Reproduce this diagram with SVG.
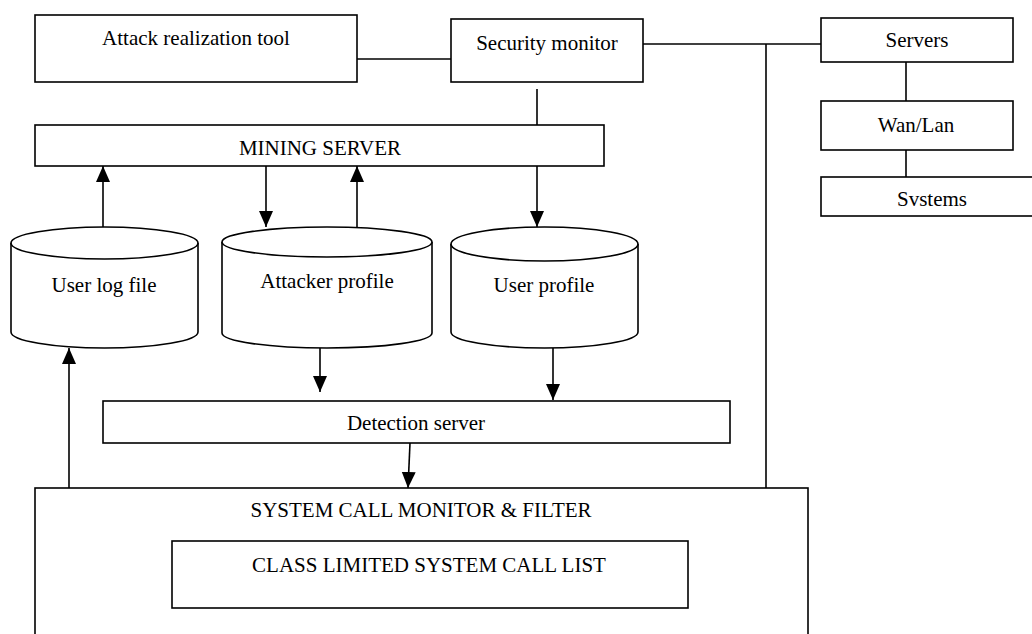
<svg xmlns="http://www.w3.org/2000/svg" width="1032" height="634" viewBox="0 0 1032 634">
<style>
.box{fill:#fff;stroke:#000;stroke-width:1.6}
.cyl{fill:#fff;stroke:#000;stroke-width:1.6}
.ln{fill:none;stroke:#000;stroke-width:1.6}
.t{font-family:"Liberation Serif","Times New Roman",serif;font-size:21px;fill:#000;text-anchor:middle}
</style>
<defs>
<marker id="ah" markerUnits="userSpaceOnUse" markerWidth="16" markerHeight="16" viewBox="0 0 16 14" refX="16" refY="7" orient="auto">
<path d="M0,0 L16,7 L0,14 Z" fill="#000"/>
</marker>
</defs>
<rect width="1032" height="634" fill="#fff"/>
<g id="connectors">
<line class="ln" x1="357" y1="59" x2="451" y2="59"/>
<line class="ln" x1="643" y1="44" x2="821" y2="44"/>
<line class="ln" x1="766" y1="44" x2="766" y2="488"/>
<line class="ln" x1="906" y1="62" x2="906" y2="101"/>
<line class="ln" x1="906" y1="138" x2="906" y2="177"/>
<line class="ln" x1="537" y1="89" x2="537" y2="125"/>
<line class="ln" x1="103" y1="227" x2="103" y2="166" marker-end="url(#ah)"/>
<line class="ln" x1="266" y1="166" x2="266" y2="227" marker-end="url(#ah)"/>
<line class="ln" x1="357" y1="227" x2="357" y2="166" marker-end="url(#ah)"/>
<line class="ln" x1="537" y1="166" x2="537" y2="227" marker-end="url(#ah)"/>
<line class="ln" x1="320" y1="348" x2="320" y2="392" marker-end="url(#ah)"/>
<line class="ln" x1="553" y1="348" x2="553" y2="400" marker-end="url(#ah)"/>
<line class="ln" x1="410" y1="443" x2="408" y2="488" marker-end="url(#ah)"/>
<line class="ln" x1="69" y1="488" x2="69" y2="348" marker-end="url(#ah)"/>
</g>
<g id="attack-tool">
<rect class="box" x="35" y="15" width="322" height="67"/>
<text class="t" x="196" y="45">Attack realization tool</text>
</g>
<g id="security-monitor">
<rect class="box" x="451" y="19" width="192" height="63"/>
<text class="t" x="547" y="50">Security monitor</text>
</g>
<g id="servers">
<rect class="box" x="821" y="18" width="192" height="44"/>
<text class="t" x="917" y="47">Servers</text>
</g>
<g id="wanlan">
<rect class="box" x="821" y="101" width="192" height="49"/>
<text class="t" x="916" y="132">Wan/Lan</text>
</g>
<g id="systems">
<rect class="box" x="821" y="177" width="222" height="39"/>
<text class="t" x="932" y="206">Svstems</text>
</g>
<g id="mining-server">
<rect class="box" x="35" y="125" width="569" height="41"/>
<text class="t" x="320" y="155">MINING SERVER</text>
</g>
<g id="user-log-file">
<path class="cyl" d="M11,243 L11,332 A93.5,16 0 0 0 198,332 L198,243"/>
<ellipse class="cyl" cx="104.5" cy="243" rx="93.5" ry="16"/>
<text class="t" x="104" y="292">User log file</text>
</g>
<g id="attacker-profile">
<path class="cyl" d="M222,242 L222,333 A105,15 0 0 0 432,333 L432,242"/>
<ellipse class="cyl" cx="327" cy="242" rx="105" ry="15"/>
<text class="t" x="327" y="288">Attacker profile</text>
</g>
<g id="user-profile">
<path class="cyl" d="M451,244 L451,332 A93.5,16 0 0 0 638,332 L638,244"/>
<ellipse class="cyl" cx="544.5" cy="244" rx="93.5" ry="17"/>
<text class="t" x="544" y="292">User profile</text>
</g>
<g id="detection-server">
<rect class="box" x="103" y="401" width="627" height="42"/>
<text class="t" x="416" y="430">Detection server</text>
</g>
<g id="system-call-monitor">
<rect class="box" x="35" y="488" width="773" height="170"/>
<text class="t" x="421" y="517">SYSTEM CALL MONITOR &amp; FILTER</text>
</g>
<g id="class-limited-list">
<rect class="box" x="172" y="541" width="516" height="67"/>
<text class="t" x="429" y="572">CLASS LIMITED SYSTEM CALL LIST</text>
</g>
</svg>
